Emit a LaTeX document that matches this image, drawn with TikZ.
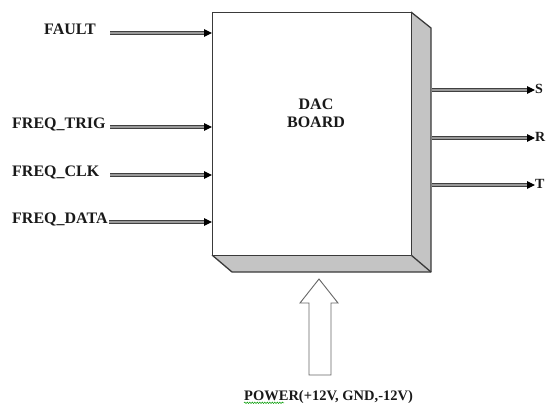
\documentclass[tikz,border=0pt]{standalone}
\usepackage{fontspec}
\setmainfont{Liberation Serif}
\usetikzlibrary{arrows.meta,decorations.pathmorphing}
\definecolor{facegray}{HTML}{C4C4C4}
\definecolor{edge}{HTML}{3A3A3A}
\tikzset{
  lbl/.style={font=\bfseries\fontsize{16}{18}\selectfont, inner sep=0pt, text=black!90},
  sig/.style={draw=black!75, double=black!40, double distance=1.2pt, line width=1pt,
     -{Triangle[length=8pt,width=7.5pt,fill=black,color=black]}},
  boxedge/.style={draw=edge, line width=1.3pt, line join=round},
}
\begin{document}
\begin{tikzpicture}[x=1pt,y=-1pt]
\useasboundingbox (0,0) rectangle (547,410);
% 3D faces
\fill[facegray] (411,12) -- (431,28) -- (431,272) -- (411,255) -- cycle;
\fill[facegray] (212,255) -- (232,272) -- (431,272) -- (411,255) -- cycle;
\draw[boxedge] (411,12) -- (431,28) -- (431,272) -- (232,272) -- (212,255);
\draw[boxedge] (411,255) -- (431,272);
% front face
\node[boxedge, fill=white, minimum width=199pt, minimum height=243pt, inner sep=0pt,
      anchor=north west] (board) at (212,12) {};
\node[lbl, align=center, font=\bfseries\fontsize{16}{18}\selectfont] (title) at (316,113) {DAC\\BOARD};
% inputs
\node[lbl, anchor=west] (lfault) at (44,29) {FAULT};
\node[lbl, anchor=west] (ltrig) at (12,124.5) {FREQ\_TRIG};
\node[lbl, anchor=west] (lclk) at (12,172) {FREQ\_CLK};
\node[lbl, anchor=west] (ldata) at (12,219.5) {FREQ\_DATA};
\coordinate (ifault) at (110,33);
\coordinate (itrig) at (110,127);
\coordinate (iclk) at (110,175);
\coordinate (idata) at (109,222);
\draw[sig] (ifault) -- (ifault -| board.west);
\draw[sig] (itrig) -- (itrig -| board.west);
\draw[sig] (iclk) -- (iclk -| board.west);
\draw[sig] (idata) -- (idata -| board.west);
% outputs
\coordinate (oS) at (432,90);
\coordinate (oR) at (432,138);
\coordinate (oT) at (432,185);
\node[lbl, anchor=west, font=\bfseries\fontsize{14}{16}\selectfont] (lS) at (535,89) {S};
\node[lbl, anchor=west, font=\bfseries\fontsize{14}{16}\selectfont] (lR) at (535,137) {R};
\node[lbl, anchor=west, font=\bfseries\fontsize{14}{16}\selectfont] (lT) at (535,184) {T};
\draw[sig] (oS) -- (oS -| lS.west);
\draw[sig] (oR) -- (oR -| lR.west);
\draw[sig] (oT) -- (oT -| lT.west);
% power block arrow
\draw[draw=black!60, line width=0.9pt, fill=white, line join=miter]
  (319,279) -- (338,303) -- (331,303) -- (331,375) -- (309,375) -- (309,303) -- (300,303) -- cycle;
\node[lbl, font=\bfseries\fontsize{14.5}{16}\selectfont, anchor=west] (lpower) at (244,397) {POWER(+12V, GND,-12V)};
\draw[green!60!black, line width=0.5pt, decorate, decoration={snake, amplitude=0.7pt, segment length=2.5pt}]
  ([yshift=1pt]lpower.south west) -- ++(40,0);
\end{tikzpicture}
\end{document}
